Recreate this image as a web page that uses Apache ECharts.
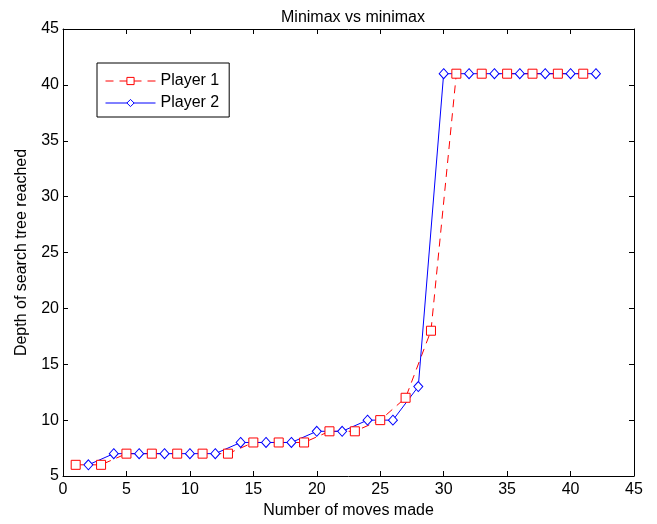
<!DOCTYPE html>
<html><head><meta charset="utf-8">
<script src="https://cdn.jsdelivr.net/npm/echarts@6/dist/echarts.min.js"></script>
<style>html,body{margin:0;padding:0;background:#fff}#c{width:657px;height:524px}</style>
</head><body><div id="c"></div>
<script>
const p1x = [1,3,5,7,9,11,13,15,17,19,21,23,25,27,29,31,33,35,37,39,41];
const p1y = [6,6,7,7,7,7,7,8,8,8,9,9,10,12,18,41,41,41,41,41,41];
const p2x = [2,4,6,8,10,12,14,16,18,20,22,24,26,28,30,32,34,36,38,40,42];
const p2y = [6,7,7,7,7,7,8,8,8,9,9,10,10,13,41,41,41,41,41,41,41];
const xTicks = [0,5,10,15,20,25,30,35,40,45];
const yTicks = [5,10,15,20,25,30,35,40,45];

const font = 'Liberation Sans, Arial, Helvetica, sans-serif';
const chart = echarts.init(document.getElementById('c'));
const axisCommon = {
  axisLine:{show:true,onZero:false,lineStyle:{color:'#000',width:1}},
  axisTick:{show:true,inside:true,length:5,lineStyle:{color:'#000'}},
  splitLine:{show:false}
};
chart.setOption({
  animation:false,
  backgroundColor:'#fff',
  title:{text:'Minimax vs minimax',left:348,top:5,textAlign:'center',
    textStyle:{fontFamily:font,fontSize:16,fontWeight:'normal',color:'#000'}},
  legend:{left:97,top:63,orient:'vertical',backgroundColor:'#fff',borderColor:'#000',borderWidth:1,
    padding:[10,10,6,8],itemWidth:50,itemHeight:9,itemGap:6,
    lineStyle:{width:1},itemStyle:{borderWidth:1},
    textStyle:{fontFamily:font,fontSize:16,color:'#000'},
    data:['Player 1','Player 2']},
  grid:{left:63,right:23,top:29,bottom:42},
  xAxis:[
    Object.assign({type:'value',min:0,max:45,interval:5,name:'Number of moves made',nameLocation:'middle',nameGap:27,
      nameTextStyle:{fontFamily:font,fontSize:16,color:'#000'},
      axisLabel:{fontFamily:font,fontSize:16,color:'#000',margin:6,
        formatter:v=>xTicks.includes(v)?String(v):''}},axisCommon),
    Object.assign({type:'value',min:0,max:45,interval:5,position:'top',axisLabel:{show:false}},axisCommon)
  ],
  yAxis:[
    Object.assign({type:'value',min:5,max:45,interval:5,name:'Depth of search tree reached',nameLocation:'middle',nameGap:33,
      nameTextStyle:{fontFamily:font,fontSize:16,color:'#000'},
      axisLabel:{fontFamily:font,fontSize:16,color:'#000',margin:4,
        formatter:v=>yTicks.includes(v)?String(v):''}},axisCommon),
    Object.assign({type:'value',min:5,max:45,interval:5,position:'right',axisLabel:{show:false}},axisCommon)
  ],
  series:[
    {name:'Player 1',type:'line',data:p1x.map((x,i)=>[x,p1y[i]]),
      symbol:'rect',symbolSize:9,showAllSymbol:true,
      lineStyle:{color:'#ff0000',width:1,type:[8,6]},
      itemStyle:{color:'#fff',borderColor:'#ff0000',borderWidth:1},color:'#ff0000'},
    {name:'Player 2',type:'line',data:p2x.map((x,i)=>[x,p2y[i]]),
      symbol:'diamond',symbolSize:[9,10],showAllSymbol:true,
      lineStyle:{color:'#0000ff',width:1},
      itemStyle:{color:'#fff',borderColor:'#0000ff',borderWidth:1},color:'#0000ff'}
  ]
});
</script></body></html>
